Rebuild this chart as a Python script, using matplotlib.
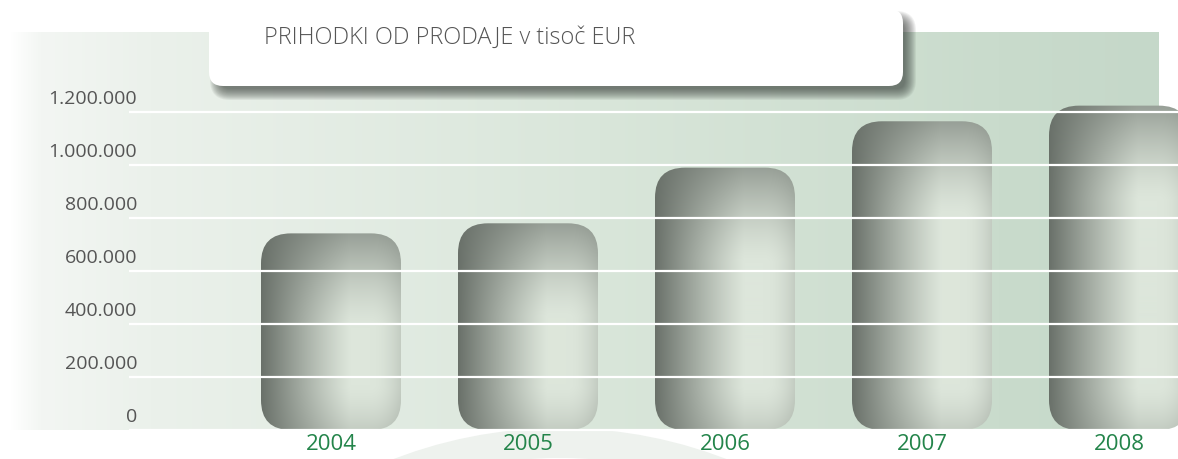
import numpy as np
import matplotlib
matplotlib.use('Agg')
import matplotlib.pyplot as plt
from matplotlib.patches import FancyBboxPatch, Wedge
import matplotlib.transforms as mtransforms
from matplotlib.colors import to_rgb

# ---------------- data ----------------
years = ['2004', '2005', '2006', '2007', '2008']
revenue = [742000, 780000, 990000, 1165000, 1224000]
ytick_values = [0, 200000, 400000, 600000, 800000, 1000000, 1200000]
ytick_labels = ['0', '200.000', '400.000', '600.000', '800.000', '1.000.000', '1.200.000']
title = 'PRIHODKI OD PRODAJE v tisoč EUR'

# ---------------- layout (pixels) ----------------
W, H = 1178, 459
X0_PX, STEP_PX = 331, 197      # centre of first category, category spacing
ZERO_PX, PX_PER_M = 430, 265.0  # pixel row of value 0, pixels per 1,000,000

FONT = ['Open Sans', 'DejaVu Sans']

def px2x(px):
    return (px - X0_PX) / STEP_PX

def px2y(py):
    return (ZERO_PX - py) / PX_PER_M * 1e6

fig = plt.figure(figsize=(W / 100, H / 100), dpi=100)
fig.patch.set_facecolor('white')

# background axes in pixel coordinates
bg = fig.add_axes([0, 0, 1, 1], zorder=0)
bg.set_xlim(0, W)
bg.set_ylim(H, 0)
bg.axis('off')

# faint watermark ring
bg.add_patch(Wedge((560, 890), 462, 0, 360, width=30, facecolor='#eef2ee',
                   edgecolor='none', zorder=0))

# gradient panel
stops_px = [10, 40, 150, 600, 1000, 1159]
stops_col = ['#ffffff', '#f3f6f3', '#ebf1eb', '#d9e6da', '#c9dbcc', '#c5d8c9']
xs = np.linspace(10, 1159, 600)
cols = np.array([to_rgb(c) for c in stops_col])
grad = np.stack([np.interp(xs, stops_px, cols[:, k]) for k in range(3)], axis=-1)
bg.imshow(grad[None, :, :], extent=[10, 1159, 430, 32], aspect='auto',
          interpolation='bilinear', zorder=1)
bg.set_xlim(0, W)
bg.set_ylim(H, 0)

# main data axes
ax = fig.add_axes([0, 0, 1, 1], zorder=1)
ax.patch.set_alpha(0)
ax.set_xlim(px2x(0), px2x(W))
ax.set_ylim(px2y(H), px2y(0))
ax.axis('off')

bar_w = 140 / STEP_PX
r_px = 30
dark = np.array(to_rgb('#697069'))
light = np.array(to_rgb('#dde6db'))

for i, (yr, v) in enumerate(zip(years, revenue)):
    left = i - bar_w / 2
    patch = FancyBboxPatch((left, 0), bar_w, v,
                           boxstyle=f'round,pad=0,rounding_size={r_px / STEP_PX}',
                           mutation_aspect=(r_px / PX_PER_M * 1e6) / (r_px / STEP_PX),
                           facecolor='none', edgecolor='none', zorder=2)
    ax.add_patch(patch)
    h_px = int(round(v / 1e6 * PX_PER_M))
    nx = 140
    t = (np.arange(nx) + 0.5) / nx
    r = np.arange(h_px) + 0.5
    f = np.clip(1 - t / 0.64, 0, 1) ** 1.15
    f = np.maximum(f, np.clip((t - 0.78) / 0.22, 0, 1) ** 2 * 0.22)
    g = np.clip(1 - r / 95, 0, 1) ** 1.4 * 0.6
    gb = np.clip(1 - (h_px - r) / 45, 0, 1) ** 1.5 * 0.22
    d = 1 - (1 - f[None, :]) * (1 - g[:, None]) * (1 - gb[:, None])
    img = light[None, None, :] * (1 - d[..., None]) + dark[None, None, :] * d[..., None]
    im = ax.imshow(img, extent=[left, left + bar_w, 0, v], aspect='auto',
                   origin='upper', interpolation='bilinear', zorder=2)
    im.set_clip_path(patch)
    ax.set_xlim(px2x(0), px2x(W))
    ax.set_ylim(px2y(H), px2y(0))

# gridlines over the bars
ax.hlines(ytick_values, px2x(129), px2x(W), colors='white', linewidth=1.6, zorder=3)

# y labels (slightly above gridlines)
lab_tr = mtransforms.offset_copy(ax.transData, fig=fig, x=0, y=13, units='dots')
for val, lab in zip(ytick_values, ytick_labels):
    ax.text(px2x(137), val, lab, transform=lab_tr, ha='right', va='center',
            fontsize=14, color='#555555', family=FONT, zorder=4)

# x labels
xl_tr = mtransforms.offset_copy(ax.transData, fig=fig, x=0, y=-14, units='dots')
for i, yr in enumerate(years):
    ax.text(i, 0, yr, transform=xl_tr, ha='center', va='center',
            fontsize=16, color='#23844a', family=FONT, zorder=4)

# overlay: title box with shadow
ov = fig.add_axes([0, 0, 1, 1], zorder=2)
ov.patch.set_alpha(0)
ov.set_xlim(0, W)
ov.set_ylim(H, 0)
ov.axis('off')

bx0, by0, bx1, by1 = 209, 9, 903, 86
sx, sy = 7, 8
for k in range(12, 0, -1):
    ov.add_patch(FancyBboxPatch((bx0 + sx + 6, by0 + sy + 6), bx1 - bx0 - 12,
                                by1 - by0 - 12,
                                boxstyle=f'round,pad={k},rounding_size={8 + k}',
                                facecolor='#363c37', edgecolor='none', alpha=0.075,
                                zorder=5))
ov.add_patch(FancyBboxPatch((bx0, by0), bx1 - bx0, by1 - by0,
                            boxstyle='round,pad=0,rounding_size=14',
                            facecolor='white', edgecolor='none', zorder=6))
tt = ov.text(264, 38, title, ha='left', va='center', fontsize=17,
             color='#555555', family=FONT, fontweight='light', zorder=7)
fig.canvas.draw()
wpx = tt.get_window_extent().width
tt.set_fontsize(17 * 370 / wpx)

fig.savefig('out.png', dpi=100, facecolor='white')
